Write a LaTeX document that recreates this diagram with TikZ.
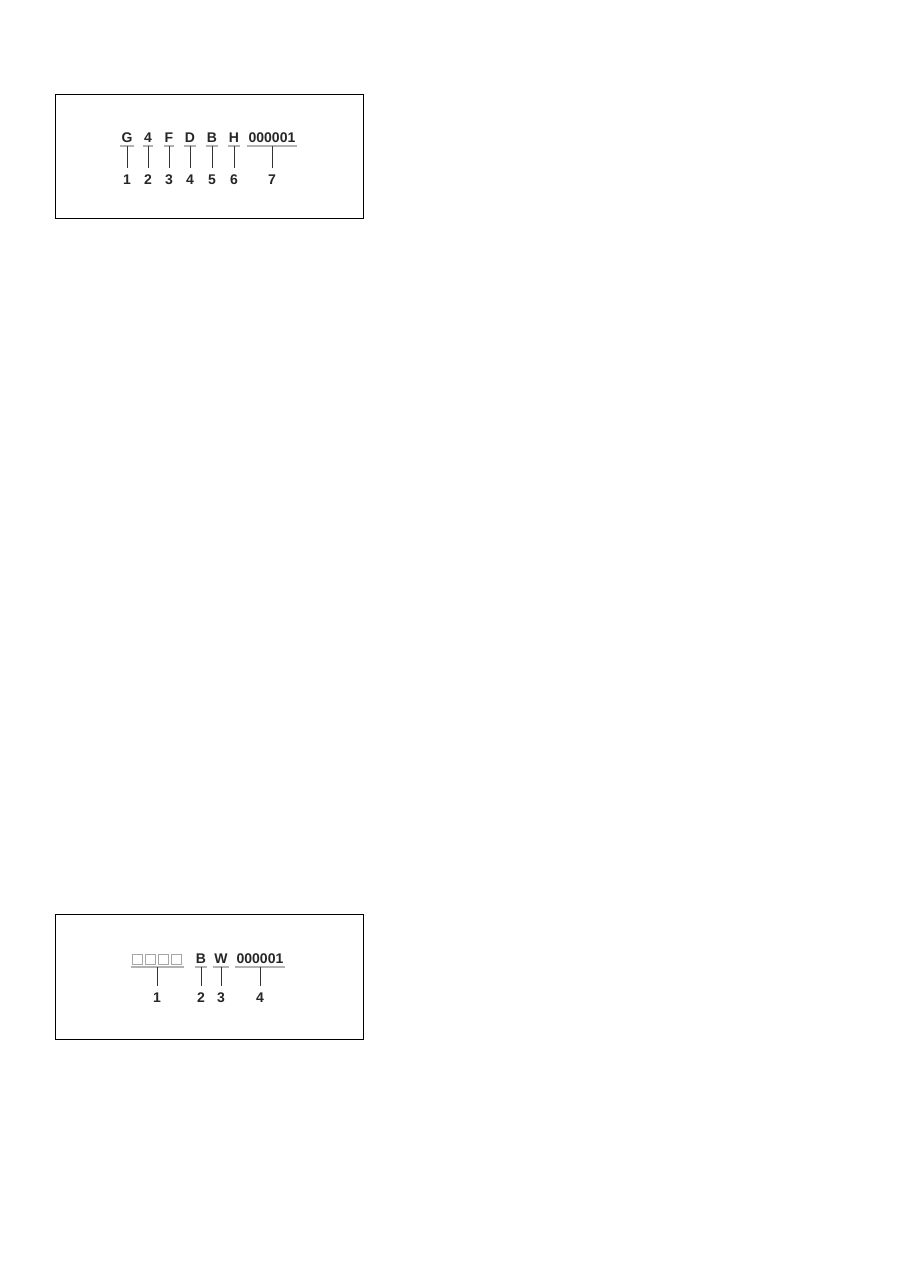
\documentclass[tikz,border=0pt]{standalone}
\usepackage{fontspec}
\setmainfont{Liberation Sans}
\usepackage{tikz}
\usetikzlibrary{positioning}

\begin{document}
\begin{tikzpicture}[x=1pt, y=-1pt,
    frame/.style={draw=black, line width=1pt},
    code/.style={font=\bfseries\fontsize{14}{14}\selectfont, text=black!85, inner xsep=1pt, inner ysep=3pt, text depth=0pt, anchor=south},
    num/.style={font=\bfseries\fontsize{14}{14}\selectfont, text=black!85, inner xsep=1pt, inner ysep=6pt, text depth=0pt, anchor=base},
    uline/.style={draw=gray!60, line width=1.3pt},
    tick/.style={draw=gray!40!black, line width=0.7pt},
    sq/.style={draw=gray!70, line width=0.9pt, minimum size=10pt, inner sep=0pt}
]
\useasboundingbox (0,0) rectangle (910,1286);

% Upper box
\draw[frame] (55,94) rectangle (363,218);

\foreach \i/\x/\t in {1/127/G, 2/148/4, 3/169/F, 4/190/D, 5/212/B, 6/234/H, 7/272/000001} {
    \node[code] (a\i) at (\x,146) {\t};
    \node[num] (na\i) at (\x,184) {\i};
    \draw[uline] (a\i.south west) -- (a\i.south east);
    \draw[tick] (a\i.south) -- (na\i.north);
}

% Lower box
\draw[frame] (55,914) rectangle (363,1039);

% blank places
\foreach \i/\x in {1/137.5, 2/150.5, 3/163.5, 4/176.5} {
    \node[sq] (s\i) at (\x,959) {};
}
\coordinate (sl) at (131,967);
\coordinate (sr) at (184,967);
\coordinate (sm) at (157,967);
\node[num] (nb1) at (157,1002) {1};
\draw[uline] (sl) -- (sr);
\draw[tick] (sm) -- (nb1.north);

\foreach \i/\x/\t in {2/201/B, 3/221/W, 4/260/000001} {
    \node[code] (b\i) at (\x,967) {\t};
    \node[num] (nb\i) at (\x,1002) {\i};
    \draw[uline] (b\i.south west) -- (b\i.south east);
    \draw[tick] (b\i.south) -- (nb\i.north);
}

\end{tikzpicture}
\end{document}
